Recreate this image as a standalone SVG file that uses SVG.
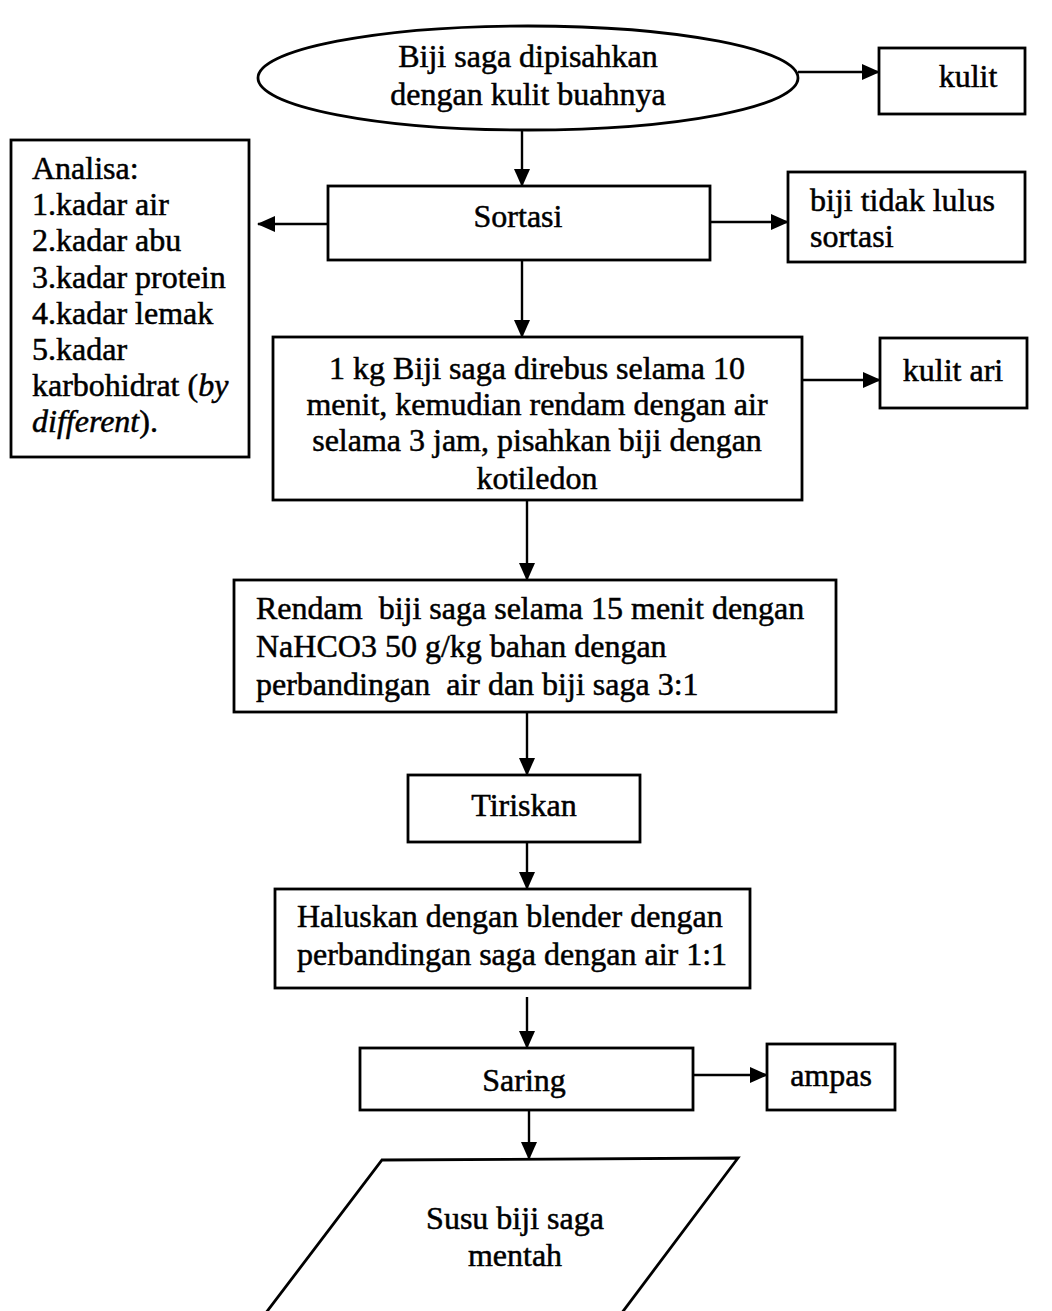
<svg xmlns="http://www.w3.org/2000/svg" width="1052" height="1311" viewBox="0 0 1052 1311">
<defs>
<marker id="ah" markerWidth="18" markerHeight="16" refX="17" refY="8" orient="auto" markerUnits="userSpaceOnUse">
<path d="M0,0 L18,8 L0,16 Z" fill="#000"/>
</marker>
<style>
.s{fill:#fff;stroke:#000;stroke-width:2.8}
.t{font-family:"Liberation Serif","Times New Roman",serif;font-size:32px;fill:#000;stroke:#000;stroke-width:0.5}
.c{text-anchor:middle}
.e{stroke:#000;stroke-width:2.4;fill:none;marker-end:url(#ah)}
</style>
</defs>
<rect width="1052" height="1311" fill="#fff"/>
<g id="connectors">
<line class="e" x1="798" y1="72" x2="879" y2="72"/>
<line class="e" x1="522" y1="130" x2="522" y2="186"/>
<line class="e" x1="328" y1="224" x2="258" y2="224"/>
<line class="e" x1="710" y1="222" x2="788" y2="222"/>
<line class="e" x1="522" y1="260" x2="522" y2="337"/>
<line class="e" x1="802" y1="380" x2="880" y2="380"/>
<line class="e" x1="527" y1="500" x2="527" y2="580"/>
<line class="e" x1="527" y1="712" x2="527" y2="775"/>
<line class="e" x1="527" y1="842" x2="527" y2="889"/>
<line class="e" x1="527" y1="997" x2="527" y2="1048"/>
<line class="e" x1="693" y1="1075" x2="767" y2="1075"/>
<line class="e" x1="529" y1="1110" x2="529" y2="1159"/>
</g>
<g id="n1">
<ellipse class="s" cx="528" cy="78" rx="270" ry="52"/>
<text class="t c" x="528" y="67">Biji saga dipisahkan</text>
<text class="t c" x="528" y="105">dengan kulit buahnya</text>
</g>
<g id="n2">
<rect class="s" x="879" y="48" width="146" height="66"/>
<text class="t c" x="968" y="87">kulit</text>
</g>
<g id="n3">
<rect class="s" x="328" y="186" width="382" height="74"/>
<text class="t c" x="518" y="227">Sortasi</text>
</g>
<g id="n4">
<rect class="s" x="11" y="140" width="238" height="317"/>
<text class="t" x="32" y="179">Analisa:</text>
<text class="t" x="32" y="215">1.kadar air</text>
<text class="t" x="32" y="251">2.kadar abu</text>
<text class="t" x="32" y="288">3.kadar protein</text>
<text class="t" x="32" y="324">4.kadar lemak</text>
<text class="t" x="32" y="360">5.kadar</text>
<text class="t" x="32" y="396">karbohidrat (<tspan font-style="italic">by</tspan></text>
<text class="t" x="32" y="432"><tspan font-style="italic">different</tspan>).</text>
</g>
<g id="n5">
<rect class="s" x="788" y="172" width="237" height="90"/>
<text class="t" x="810" y="211">biji tidak lulus</text>
<text class="t" x="810" y="247">sortasi</text>
</g>
<g id="n6">
<rect class="s" x="273" y="337" width="529" height="163"/>
<text class="t c" x="537" y="379">1 kg Biji saga direbus selama 10</text>
<text class="t c" x="537" y="415">menit, kemudian rendam dengan air</text>
<text class="t c" x="537" y="451">selama 3 jam, pisahkan biji dengan</text>
<text class="t c" x="537" y="489">kotiledon</text>
</g>
<g id="n7">
<rect class="s" x="880" y="338" width="147" height="70"/>
<text class="t c" x="953" y="381">kulit ari</text>
</g>
<g id="n8">
<rect class="s" x="234" y="580" width="602" height="132"/>
<text class="t" x="256" y="619" xml:space="preserve">Rendam  biji saga selama 15 menit dengan</text>
<text class="t" x="256" y="657">NaHCO3 50 g/kg bahan dengan</text>
<text class="t" x="256" y="695" xml:space="preserve">perbandingan  air dan biji saga 3:1</text>
</g>
<g id="n9">
<rect class="s" x="408" y="775" width="232" height="67"/>
<text class="t c" x="524" y="816">Tiriskan</text>
</g>
<g id="n10">
<rect class="s" x="275" y="889" width="475" height="99"/>
<text class="t" x="297" y="927">Haluskan dengan blender dengan</text>
<text class="t" x="297" y="965">perbandingan saga dengan air 1:1</text>
</g>
<g id="n11">
<rect class="s" x="360" y="1048" width="333" height="62"/>
<text class="t c" x="524" y="1091">Saring</text>
</g>
<g id="n12">
<rect class="s" x="767" y="1044" width="128" height="66"/>
<text class="t c" x="831" y="1086">ampas</text>
</g>
<g id="n13">
<path class="s" d="M382,1160 L738,1158 L618,1318 L262,1318 Z"/>
<text class="t c" x="515" y="1229">Susu biji saga</text>
<text class="t c" x="515" y="1266">mentah</text>
</g>
</svg>
